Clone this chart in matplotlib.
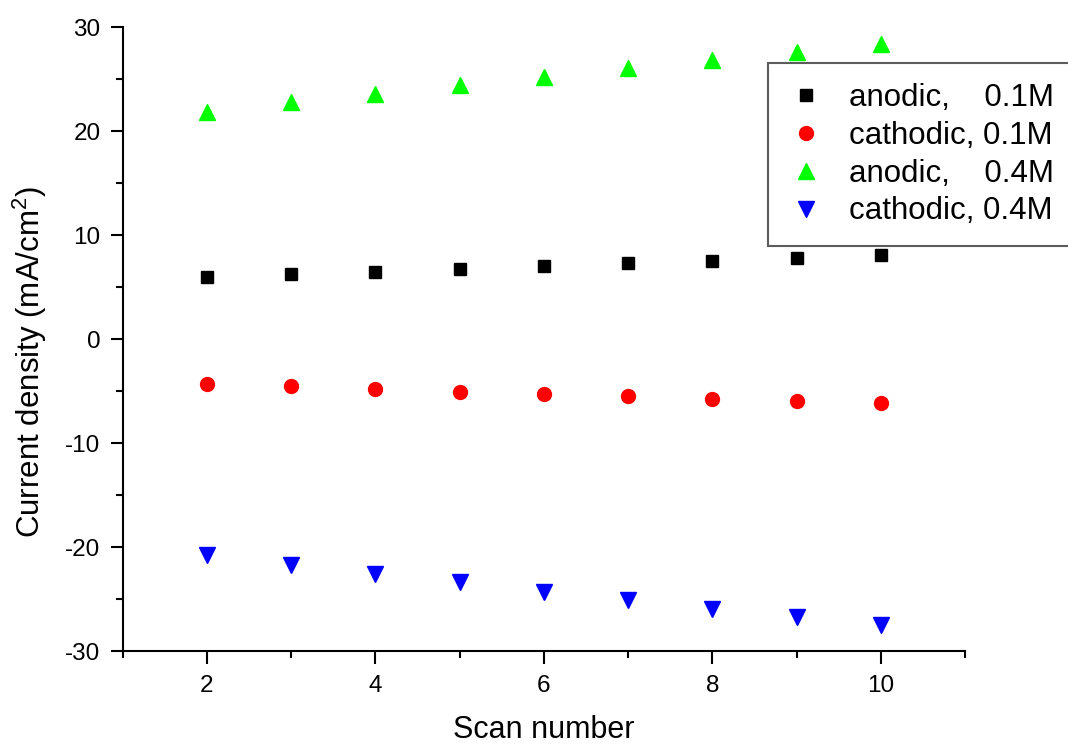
import numpy as np
import matplotlib
matplotlib.use('Agg')
import matplotlib.pyplot as plt
from matplotlib.ticker import MultipleLocator

plt.rcParams['font.family'] = ['Liberation Sans', 'DejaVu Sans']
plt.rcParams['mathtext.fontset'] = 'custom'
plt.rcParams['mathtext.rm'] = 'Liberation Sans'
plt.rcParams['axes.unicode_minus'] = False

# data
scan = [2, 3, 4, 5, 6, 7, 8, 9, 10]
anodic_01 = [5.93, 6.22, 6.47, 6.76, 7.02, 7.31, 7.50, 7.76, 8.05]
cathodic_01 = [-4.30, -4.55, -4.84, -5.07, -5.29, -5.48, -5.74, -5.96, -6.18]
anodic_04 = [21.83, 22.76, 23.59, 24.40, 25.24, 26.08, 26.80, 27.60, 28.40]
cathodic_04 = [-20.77, -21.70, -22.62, -23.41, -24.31, -25.14, -25.99, -26.71, -27.47]
labels = ['anodic,    0.1M', 'cathodic, 0.1M', 'anodic,    0.4M', 'cathodic, 0.4M']

fig = plt.figure(figsize=(10.68, 7.44), dpi=100)
ax = fig.add_axes([0.1149, 0.125, 0.7887, 0.8387])

ax.plot(scan, anodic_01, 's', color='black', markersize=9, label=labels[0])
ax.plot(scan, cathodic_01, 'o', color='#ff0000', markersize=10, label=labels[1])
ax.plot(scan, anodic_04, '^', color='#00ff00', markersize=11, label=labels[2])
ax.plot(scan, cathodic_04, 'v', color='#0000ff', markersize=11, label=labels[3])

ax.set_xlim(1, 11)
ax.set_ylim(-30, 30)
ax.xaxis.set_major_locator(MultipleLocator(2))
ax.xaxis.set_minor_locator(MultipleLocator(1))
ax.yaxis.set_major_locator(MultipleLocator(10))
ax.yaxis.set_minor_locator(MultipleLocator(5))

# only left and bottom axis lines, like the original
ax.spines['top'].set_visible(False)
ax.spines['right'].set_visible(False)
for s in ['left', 'bottom']:
	ax.spines[s].set_linewidth(1.5)
ax.tick_params(which='major', direction='out', length=9, width=1.5, labelsize=17.5, pad=7)
ax.tick_params(which='minor', direction='out', length=5, width=1.5)
ax.tick_params(axis='x', which='major', pad=8)

ax.set_xlabel('Scan number', fontsize=22, labelpad=13)
ax.set_ylabel('Current density (mA/cm$\\mathregular{^2}$)', fontsize=22.5)
ax.yaxis.set_label_coords(-0.087, 0.463)  # label sits a bit below the axis middle in the original

# legend box runs off the right edge in the original
leg = fig.legend(loc='upper left', bbox_to_anchor=(768 / 1068, 1 - 63 / 744), bbox_transform=fig.transFigure,
	fontsize=22.5, frameon=True, fancybox=False, borderaxespad=0, borderpad=0.64,
	handlelength=1.14, handletextpad=0.8, labelspacing=0.25)
leg.get_frame().set_edgecolor('#333333')
leg.get_frame().set_linewidth(1.5)

fig.savefig('out.png', dpi=100)
